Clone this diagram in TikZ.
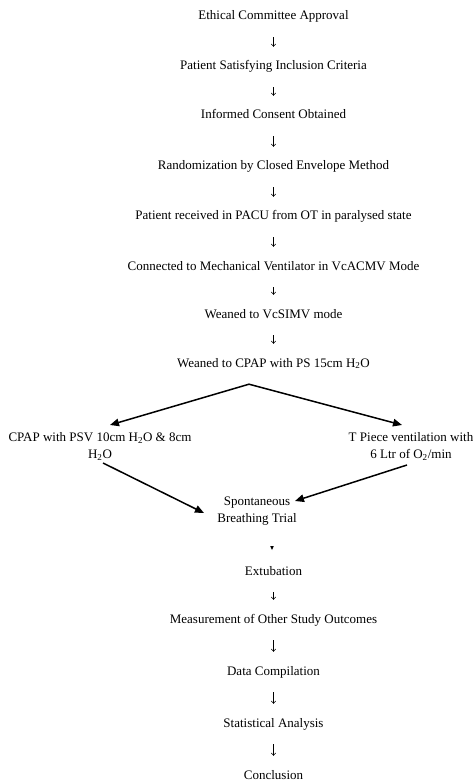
\documentclass[tikz,border=0pt]{standalone}
\usepackage{fontspec}
\setmainfont{Liberation Serif}
\usetikzlibrary{arrows.meta}
\tikzset{
  txt/.style={inner sep=0pt, anchor=base, text height=9pt, text depth=3pt, font=\fontsize{13}{17}\selectfont},
  mtxt/.style={inner sep=0pt, anchor=north, align=center, font=\fontsize{13}{17}\selectfont},
  down/.style={line width=0.5pt, -{Straight Barb[length=2.5pt,width=4.5pt]}, shorten <=14pt, shorten >=14pt},
  big/.style={line width=1.5pt, -{Triangle[length=9pt,width=7.5pt]}},
  bigboth/.style={line width=1.5pt, line join=miter, {Triangle[length=9pt,width=7.5pt]}-{Triangle[length=9pt,width=7.5pt]}},
}
\begin{document}
\begin{tikzpicture}[x=1pt,y=-1pt]
\useasboundingbox (0,0) rectangle (473,783);
\node[txt] (e1) at (273.5,20) {Ethical Committee Approval};
\node[txt] (e2) at (273.5,70) {Patient Satisfying Inclusion Criteria};
\node[txt] (e3) at (273.5,119) {Informed Consent Obtained};
\node[txt] (e4) at (273.5,170) {Randomization by Closed Envelope Method};
\node[txt] (e5) at (273.5,220) {Patient received in PACU from OT in paralysed state};
\node[txt] (e6) at (273.5,270) {Connected to Mechanical Ventilator in VcACMV Mode};
\node[txt] (e7) at (273.5,318) {Weaned to VcSIMV mode};
\node[txt] (e8) at (273.5,367) {Weaned to CPAP with PS 15cm H\textsubscript{2}O};
\node[mtxt] (psv) at (100,432) {CPAP with PSV 10cm H\textsubscript{2}O \& 8cm\\H\textsubscript{2}O};
\node[mtxt] (tp) at (411,432) {T Piece ventilation with\\6 Ltr of O\textsubscript{2}/min};
\node[mtxt] (sbt) at (257,497) {Spontaneous\\Breathing Trial};
\node[txt] (ext) at (273.5,575) {Extubation};
\node[txt] (meas) at (273.5,623) {Measurement of Other Study Outcomes};
\node[txt] (data) at (273.5,675) {Data Compilation};
\node[txt] (stat) at (273.5,727) {Statistical Analysis};
\node[txt] (conc) at (273.5,779) {Conclusion};
\foreach \a/\b in {e1/e2,e2/e3,e3/e4,e4/e5,e5/e6,e6/e7,e7/e8,ext/meas,meas/data,data/stat,stat/conc}
  \draw[down] (\a) -- (\b);
\coordinate (apex) at ([xshift=-24.5pt,yshift=-14pt]e8.south);
\draw[bigboth] ([xshift=10pt,yshift=7pt]psv.north) -- (apex) -- ([xshift=-9pt,yshift=7pt]tp.north);
\draw[big] ([xshift=3pt,yshift=-31pt]psv.north) -- ([xshift=-53pt,yshift=-16pt]sbt.north);
\draw[big] ([xshift=-4pt,yshift=-33pt]tp.north) -- ([xshift=38pt,yshift=-4pt]sbt.north);
\fill (270.2,546) -- (273.8,546) -- (272,550) -- cycle;
\end{tikzpicture}
\end{document}
